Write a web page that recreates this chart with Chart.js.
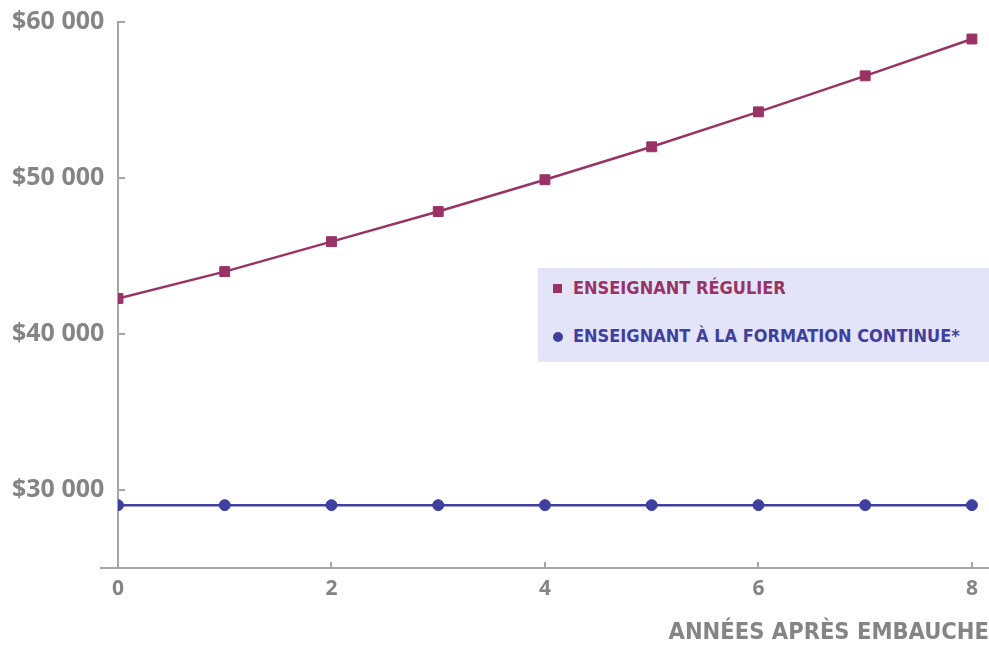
<!DOCTYPE html>
<html>
<head>
<meta charset="utf-8">
<script src="https://cdn.jsdelivr.net/npm/chart.js@4/dist/chart.umd.min.js"></script>
<style>
  html, body { margin: 0; padding: 0; background: #ffffff; }
  #wrap { position: relative; width: 989px; height: 647px; }
  #legend {
    position: absolute; left: 538px; top: 268px; width: 451px; height: 94px;
    background: #e4e4f8; font-family: "DejaVu Sans Condensed", "DejaVu Sans", sans-serif;
    font-weight: bold; font-size: 18px;
  }
  .item { position: absolute; left: 35px; white-space: nowrap; }
  .mark { position: absolute; left: -20px; width: 9px; height: 9px; top: 7px; }
</style>
</head>
<body>
<div id="wrap">
  <canvas id="salaryChart" width="989" height="647"></canvas>
  <div id="legend"></div>
</div>
<script>
// Données
const years = [0, 1, 2, 3, 4, 5, 6, 7, 8];
const regularSalary = [42280, 44000, 45920, 47850, 49890, 52000, 54240, 56550, 58910];
const continuingSalary = [29030, 29030, 29030, 29030, 29030, 29030, 29030, 29030, 29030];
const yTickValues = [30000, 40000, 50000, 60000];
const xTickValues = [0, 2, 4, 6, 8];
const seriesLabels = ['ENSEIGNANT RÉGULIER', 'ENSEIGNANT À LA FORMATION CONTINUE*'];

const purple = '#993366';
const blue = '#3f3f9f';
const gray = '#858585';
const axisGray = '#a6a6a6';

// Graduations vers l'intérieur + prolongement de l'axe X à gauche
const innerTicks = {
  id: 'innerTicks',
  afterDraw(chart) {
    const c = chart.ctx;
    const x = chart.scales.x, y = chart.scales.y;
    const x0 = chart.chartArea.left;
    const bottom = chart.chartArea.bottom;
    c.save();
    c.strokeStyle = axisGray;
    c.lineWidth = 2;
    c.beginPath(); c.moveTo(x0 - 18, bottom); c.lineTo(x0, bottom); c.stroke();
    yTickValues.forEach(v => {
      const py = Math.round(y.getPixelForValue(v));
      c.beginPath(); c.moveTo(x0, py); c.lineTo(x0 + 7, py); c.stroke();
    });
    xTickValues.forEach(v => {
      const px = Math.round(x.getPixelForValue(v));
      c.beginPath(); c.moveTo(px, bottom); c.lineTo(px, bottom - 6); c.stroke();
    });
    c.restore();
  }
};

const ctx = document.getElementById('salaryChart').getContext('2d');
const chart = new Chart(ctx, {
  type: 'line',
  data: {
    datasets: [
      {
        label: seriesLabels[0],
        data: years.map((yr, i) => ({ x: yr, y: regularSalary[i] })),
        borderColor: purple,
        backgroundColor: purple,
        borderWidth: 2.5,
        pointStyle: 'rect',
        pointRadius: 7,
        pointBorderWidth: 1,
        pointHoverRadius: 7
      },
      {
        label: seriesLabels[1],
        data: years.map((yr, i) => ({ x: yr, y: continuingSalary[i] })),
        borderColor: blue,
        backgroundColor: blue,
        borderWidth: 2.5,
        pointStyle: 'circle',
        pointRadius: 5.5,
        pointBorderWidth: 1,
        pointHoverRadius: 5.5
      }
    ]
  },
  options: {
    responsive: false,
    animation: false,
    layout: { autoPadding: false, padding: { left: 12, top: 22, right: 0, bottom: 0 } },
    plugins: { legend: { display: false }, tooltip: { enabled: false } },
    scales: {
      x: {
        type: 'linear',
        min: 0,
        max: 8.16,
        afterBuildTicks: s => { s.ticks = xTickValues.map(v => ({ value: v })); },
        afterFit: s => { s.height = 79; },
        grid: { display: false, drawTicks: false, tickLength: 0 },
        border: { color: axisGray, width: 2 },
        ticks: {
          color: gray,
          padding: 8,
          maxRotation: 0,
          font: { family: 'Open Sans', weight: 'bold', size: 21 }
        },
        title: {
          display: true,
          text: 'ANNÉES APRÈS EMBAUCHE',
          align: 'end',
          color: gray,
          padding: { top: 4, bottom: 0 },
          font: { family: 'DejaVu Sans Condensed', weight: 'bold', size: 23.5 }
        }
      },
      y: {
        type: 'linear',
        position: 'left',
        min: 25000,
        max: 60000,
        afterBuildTicks: s => { s.ticks = yTickValues.map(v => ({ value: v })); },
        afterFit: s => { s.width = 106; },
        grid: { display: false, drawTicks: false, tickLength: 0 },
        border: { color: axisGray, width: 2 },
        ticks: {
          color: gray,
          padding: 0,
          crossAlign: 'far',
          font: { family: 'Open Sans', weight: 'bold', size: 25 },
          callback: v => '$' + String(v).replace(/\B(?=(\d{3})+(?!\d))/g, ' ')
        }
      }
    }
  },
  plugins: [innerTicks]
});

// Légende HTML construite à partir des séries
const legend = document.getElementById('legend');
chart.data.datasets.forEach((ds, i) => {
  const item = document.createElement('div');
  item.className = 'item';
  item.style.top = (i === 0 ? 9 : 57) + 'px';
  item.style.color = ds.borderColor;
  const mark = document.createElement('span');
  mark.className = 'mark';
  mark.style.background = ds.borderColor;
  if (ds.pointStyle === 'circle') { mark.style.borderRadius = '50%'; mark.style.width = '10px'; mark.style.height = '10px'; }
  item.appendChild(mark);
  item.appendChild(document.createTextNode(ds.label));
  legend.appendChild(item);
});
</script>
</body>
</html>
